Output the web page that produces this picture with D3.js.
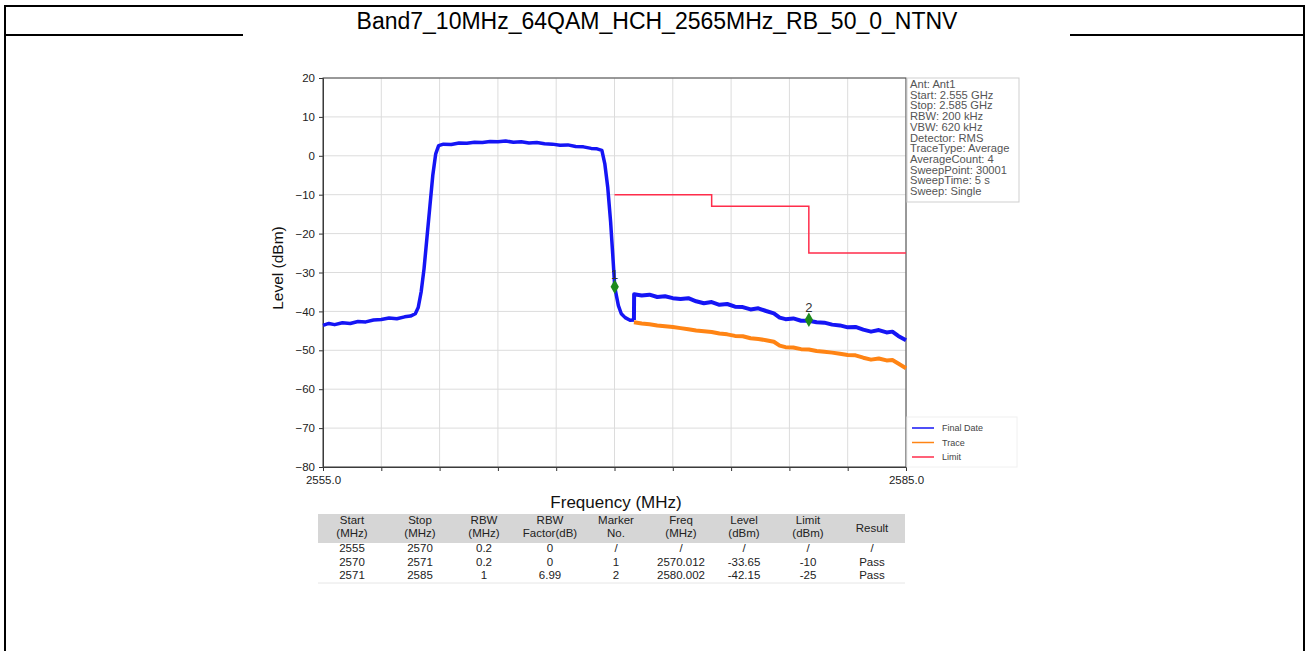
<!DOCTYPE html>
<html>
<head>
<meta charset="utf-8">
<script src="https://cdn.jsdelivr.net/npm/d3@7"></script>
<style>
  body { margin: 0; background: #fff; }
  svg { display: block; font-family: "Liberation Sans", Arial, sans-serif; }
</style>
</head>
<body>
<div id="chart"></div>
<script>
var titleText = "Band7_10MHz_64QAM_HCH_2565MHz_RB_50_0_NTNV";

// blue "Final Date" trace, in-band part (freq MHz, level dBm)
var finalLow = [
  [2555.0,-43.6],[2555.3,-43.1],[2555.6,-43.4],[2556.0,-42.9],[2556.4,-43.1],[2556.8,-42.6],
  [2557.2,-42.7],[2557.6,-42.2],[2558.0,-42.1],[2558.4,-41.7],[2558.8,-41.9],[2559.2,-41.4],
  [2559.5,-41.2],[2559.75,-40.6],[2559.9,-39.0],[2560.05,-35.0],[2560.2,-29.0],[2560.35,-21.0],
  [2560.5,-13.0],[2560.65,-5.0],[2560.8,0.5],[2560.95,2.6],[2561.2,3.0],[2561.6,2.9],
  [2562.0,3.3],[2562.4,3.2],[2562.8,3.5],[2563.2,3.4],[2563.6,3.7],[2564.0,3.6],[2564.4,3.8],
  [2564.8,3.5],[2565.2,3.6],[2565.6,3.3],[2566.0,3.4],[2566.4,3.1],[2566.8,3.0],[2567.2,2.7],
  [2567.6,2.8],[2568.0,2.4],[2568.4,2.3],[2568.8,1.9],[2569.1,1.8],[2569.35,1.4],
  [2569.5,-2.0],[2569.65,-8.0],[2569.8,-17.0],[2569.93,-27.0],[2570.012,-33.65],
  [2570.1,-36.0],[2570.2,-38.5],[2570.35,-40.6],[2570.55,-41.6],[2570.8,-42.3],[2571.0,-42.2]
];

// blue "Final Date" trace, 2571-2585 MHz (RBW factor applied)
var finalHigh = [
  [2571.0,-42.2],[2571.01,-35.6],[2571.4,-35.9],[2571.8,-35.7],[2572.2,-36.3],[2572.6,-36.1],
  [2573.0,-36.6],[2573.4,-36.8],[2573.8,-36.6],[2574.2,-37.4],[2574.6,-37.9],[2575.0,-37.6],
  [2575.4,-38.3],[2575.8,-38.1],[2576.2,-38.8],[2576.6,-38.9],[2577.0,-39.5],[2577.4,-39.2],
  [2577.8,-39.9],[2578.2,-40.5],[2578.5,-41.6],[2578.8,-42.0],[2579.2,-41.8],[2579.6,-42.4],
  [2580.0,-42.4],[2580.4,-42.8],[2580.8,-42.9],[2581.2,-43.4],[2581.6,-43.6],[2582.0,-44.1],
  [2582.4,-44.0],[2582.8,-44.7],[2583.2,-45.2],[2583.6,-44.8],[2584.0,-45.4],[2584.3,-45.2],
  [2584.6,-46.3],[2585.0,-47.4]
];

// orange "Trace" (raw level) 2571-2585 MHz
var traceRaw = [
  [2571.0,-42.8],[2571.4,-43.1],[2571.8,-43.3],[2572.2,-43.6],[2572.6,-43.8],[2573.0,-44.0],
  [2573.4,-44.3],[2573.8,-44.6],[2574.2,-44.9],[2574.6,-45.1],[2575.0,-45.3],[2575.4,-45.7],
  [2575.8,-45.9],[2576.2,-46.3],[2576.6,-46.4],[2577.0,-46.9],[2577.4,-47.1],[2577.8,-47.4],
  [2578.2,-47.8],[2578.5,-48.8],[2578.8,-49.2],[2579.2,-49.3],[2579.6,-49.7],[2580.0,-49.8],
  [2580.4,-50.2],[2580.8,-50.4],[2581.2,-50.6],[2581.6,-50.9],[2582.0,-51.2],[2582.4,-51.3],
  [2582.8,-51.9],[2583.2,-52.4],[2583.6,-52.1],[2584.0,-52.6],[2584.3,-52.5],[2584.6,-53.4],
  [2585.0,-54.6]
];

// limit line (start MHz, stop MHz, limit dBm)
var limitSegs = [[2570,2575,-10],[2575,2580,-13],[2580,2585,-25]];

var markers = [
  {no: "1", freq: 2570.012, level: -33.65},
  {no: "2", freq: 2580.002, level: -42.15}
];

var infoLines = ["Ant: Ant1","Start: 2.555 GHz","Stop: 2.585 GHz","RBW: 200 kHz","VBW: 620 kHz",
  "Detector: RMS","TraceType: Average","AverageCount: 4","SweepPoint: 30001","SweepTime: 5 s","Sweep: Single"];

var legendNames = ["Final Date","Trace","Limit"];
var legendColors = ["#1515f5","#ff8414","#ff2d4b"];

var yTicks = [20,10,0,-10,-20,-30,-40,-50,-60,-70,-80];
var xGrid = [2555,2558,2561,2564,2567,2570,2573,2576,2579,2582,2585];
var xLabels = [2555,2585];

var tableHead = [["Start","(MHz)"],["Stop","(MHz)"],["RBW","(MHz)"],["RBW","Factor(dB)"],["Marker","No."],
  ["Freq","(MHz)"],["Level","(dBm)"],["Limit","(dBm)"],["Result"]];
var tableRows = [
  ["2555","2570","0.2","0","/","/","/","/","/"],
  ["2570","2571","0.2","0","1","2570.012","-33.65","-10","Pass"],
  ["2571","2585","1","6.99","2","2580.002","-42.15","-25","Pass"]
];

var W = 1309, H = 651;
var svg = d3.select("#chart").append("svg").attr("width", W).attr("height", H);

// page frame
var fr = svg.append("g").attr("stroke", "#000").attr("stroke-width", 2);
fr.append("line").attr("x1", 5).attr("x2", 1304).attr("y1", 6).attr("y2", 6);
fr.append("line").attr("x1", 5).attr("x2", 5).attr("y1", 5).attr("y2", H);
fr.append("line").attr("x1", 1304).attr("x2", 1304).attr("y1", 5).attr("y2", H);
fr.append("line").attr("x1", 5).attr("x2", 243).attr("y1", 35).attr("y2", 35);
fr.append("line").attr("x1", 1070).attr("x2", 1304).attr("y1", 35).attr("y2", 35);

svg.append("text").attr("x", 657).attr("y", 29).attr("text-anchor", "middle")
  .style("font-size", "23px").attr("fill", "#000").text(titleText);

var x = d3.scaleLinear().domain([2555, 2585]).range([323, 906]);
var y = d3.scaleLinear().domain([-80, 20]).range([467, 78]);

// grid
svg.append("g").selectAll("line").data(yTicks).enter().append("line")
  .attr("x1", 323).attr("x2", 906).attr("y1", function(d){ return y(d); }).attr("y2", function(d){ return y(d); })
  .attr("stroke", "#dcdcdc").attr("stroke-width", 1);
svg.append("g").selectAll("line").data(xGrid).enter().append("line")
  .attr("y1", 78).attr("y2", 467).attr("x1", function(d){ return x(d); }).attr("x2", function(d){ return x(d); })
  .attr("stroke", "#dcdcdc").attr("stroke-width", 1);

// axes
var yAxis = svg.append("g").attr("transform", "translate(323,0)")
  .call(d3.axisLeft(y).tickValues(yTicks).tickSize(4).tickPadding(4)
    .tickFormat(function(d){ return d < 0 ? "\u2212" + Math.abs(d) : d; }));
var xAxis = svg.append("g").attr("transform", "translate(0,467)")
  .call(d3.axisBottom(x).tickValues(xGrid).tickSize(4).tickFormat(""));
svg.append("g").attr("transform", "translate(0,467)")
  .call(d3.axisBottom(x).tickValues(xLabels).tickSize(0).tickPadding(9).tickFormat(d3.format(".1f")))
  .call(function(g){ g.select(".domain").remove(); });
svg.selectAll(".domain").attr("stroke", "#333");
svg.selectAll(".tick line").attr("stroke", "#333");
svg.selectAll(".tick text").style("font-size", "11.5px").attr("fill", "#222")
  .style("font-family", "'Liberation Sans', Arial, sans-serif");

svg.append("rect").attr("x", 323).attr("y", 78).attr("width", 583).attr("height", 389)
  .attr("fill", "none").attr("stroke", "#444").attr("stroke-width", 1);

svg.append("text").attr("transform", "translate(283,268) rotate(-90)").attr("text-anchor", "middle")
  .style("font-size", "15.5px").attr("fill", "#111").text("Level (dBm)");
svg.append("text").attr("x", 616).attr("y", 508).attr("text-anchor", "middle")
  .style("font-size", "17px").attr("fill", "#111").text("Frequency (MHz)");

// traces
var line = d3.line().x(function(d){ return x(d[0]); }).y(function(d){ return y(d[1]); });

svg.append("path").datum(traceRaw).attr("d", line).attr("fill", "none")
  .attr("stroke", legendColors[1]).attr("stroke-width", 4).attr("stroke-linejoin", "round");
svg.append("path").datum(finalLow).attr("d", line).attr("fill", "none")
  .attr("stroke", legendColors[0]).attr("stroke-width", 3.5).attr("stroke-linejoin", "round");
svg.append("path").datum(finalHigh).attr("d", line).attr("fill", "none")
  .attr("stroke", legendColors[0]).attr("stroke-width", 4).attr("stroke-linejoin", "round");

// limit steps
var limitPts = [];
limitSegs.forEach(function(s){ limitPts.push([s[0], s[2]]); limitPts.push([s[1], s[2]]); });
svg.append("path").datum(limitPts).attr("d", line).attr("fill", "none")
  .attr("stroke", legendColors[2]).attr("stroke-width", 1.5);

// markers
var mk = svg.append("g").selectAll("g").data(markers).enter().append("g")
  .attr("transform", function(d){ return "translate(" + x(d.freq) + "," + y(d.level) + ")"; });
mk.append("path").attr("d", d3.symbol().type(d3.symbolDiamond).size(60))
  .attr("fill", "#1d8a1d");
mk.append("text").attr("y", -8).attr("text-anchor", "middle").style("font-size", "13px")
  .attr("fill", "#333").text(function(d){ return d.no; });

// info box
svg.append("rect").attr("x", 907).attr("y", 78).attr("width", 112).attr("height", 124)
  .attr("fill", "#fff").attr("stroke", "#cfcfcf");
svg.append("g").selectAll("text").data(infoLines).enter().append("text")
  .attr("x", 910).attr("y", function(d, i){ return 88 + i * 10.7; })
  .style("font-size", "11.2px").attr("fill", "#555").text(function(d){ return d; });

// legend
svg.append("rect").attr("x", 907).attr("y", 417).attr("width", 110).attr("height", 50)
  .attr("fill", "#fff").attr("stroke", "#f0f0f0");
var lg = svg.append("g").selectAll("g").data(legendNames).enter().append("g")
  .attr("transform", function(d, i){ return "translate(912," + (428 + i * 14.5) + ")"; });
lg.append("line").attr("x1", 0).attr("x2", 22).attr("stroke", function(d, i){ return legendColors[i]; })
  .attr("stroke-width", 1.5);
lg.append("text").attr("x", 30).attr("y", 3).style("font-size", "9px").attr("fill", "#444")
  .text(function(d){ return d; });

// table
var colX = [352, 420, 484, 550, 616, 681, 744, 808, 872];
svg.append("rect").attr("x", 318).attr("y", 514).attr("width", 587).attr("height", 29).attr("fill", "#d6d6d6");
var th = svg.append("g").selectAll("text").data(tableHead).enter().append("text")
  .attr("x", function(d, i){ return colX[i]; }).attr("text-anchor", "middle")
  .style("font-size", "11.5px").attr("fill", "#222");
th.each(function(d){
  var t = d3.select(this);
  if (d.length == 1) {
    t.append("tspan").attr("x", t.attr("x")).attr("y", 532).text(d[0]);
  } else {
    t.append("tspan").attr("x", t.attr("x")).attr("y", 524).text(d[0]);
    t.append("tspan").attr("x", t.attr("x")).attr("y", 537).text(d[1]);
  }
});
tableRows.forEach(function(r, ri){
  svg.append("g").selectAll("text").data(r).enter().append("text")
    .attr("x", function(d, i){ return colX[i]; }).attr("y", 552 + ri * 13.5)
    .attr("text-anchor", "middle").style("font-size", "11.5px").attr("fill", "#222")
    .text(function(d){ return d; });
});
svg.append("line").attr("x1", 318).attr("x2", 905).attr("y1", 583).attr("y2", 583)
  .attr("stroke", "#e6e6e6");
</script>
</body>
</html>
